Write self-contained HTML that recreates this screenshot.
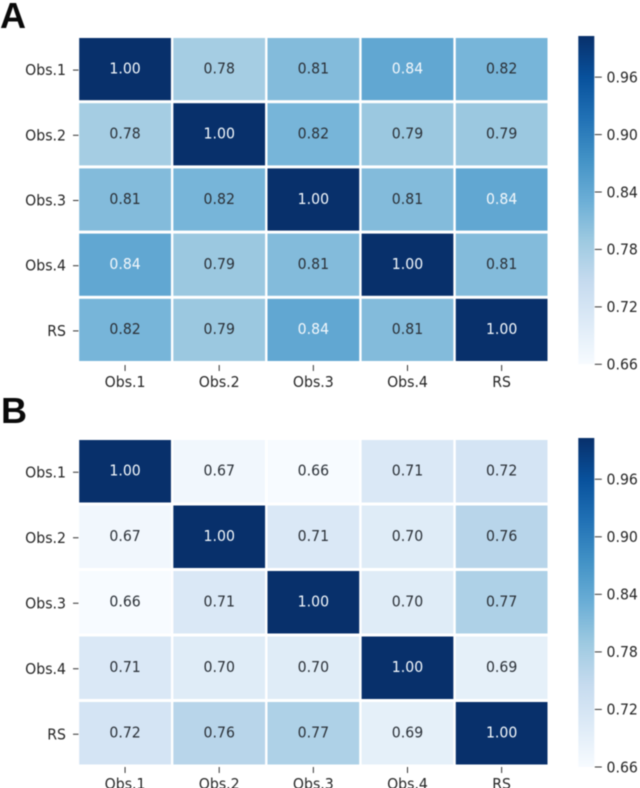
<!DOCTYPE html>
<html>
<head>
<meta charset="utf-8">
<title>Correlation heatmaps</title>
<style>
html,body{margin:0;padding:0;background:#fff;width:640px;height:788px;overflow:hidden}
svg{display:block}
text{font-family:"DejaVu Sans","Liberation Sans",sans-serif}
</style>
</head>
<body>
<svg id="fig" xmlns="http://www.w3.org/2000/svg" width="640" height="788" viewBox="0 0 640 788">
<defs>
<filter id="soft" x="-2%" y="-2%" width="104%" height="104%" color-interpolation-filters="sRGB"><feGaussianBlur stdDeviation="0.4"/></filter>
</defs>
<g id="root" filter="url(#soft)"></g>
</svg>
<script>
const rowLabels = ["Obs.1", "Obs.2", "Obs.3", "Obs.4", "RS"];
const colLabels = ["Obs.1", "Obs.2", "Obs.3", "Obs.4", "RS"];
const matrixA = [
  [1.00, 0.78, 0.81, 0.84, 0.82],
  [0.78, 1.00, 0.82, 0.79, 0.79],
  [0.81, 0.82, 1.00, 0.81, 0.84],
  [0.84, 0.79, 0.81, 1.00, 0.81],
  [0.82, 0.79, 0.84, 0.81, 1.00]
];
const matrixB = [
  [1.00, 0.67, 0.66, 0.71, 0.72],
  [0.67, 1.00, 0.71, 0.70, 0.76],
  [0.66, 0.71, 1.00, 0.70, 0.77],
  [0.71, 0.70, 0.70, 1.00, 0.69],
  [0.72, 0.76, 0.77, 0.69, 1.00]
];
const colorbarTicks = [0.66, 0.72, 0.78, 0.84, 0.90, 0.96];
const valueMin = 0.66;
const valueMax = 1.0;
const colorbarMax = 1.003;
const blues = ["#f7fbff","#deebf7","#c6dbef","#9ecae1","#6baed6","#4292c6","#2171b5","#08519c","#08306b"];

const NS = "http://www.w3.org/2000/svg";
const root = document.getElementById("root");

function hexToRgb(h){
  return [parseInt(h.slice(1,3),16),parseInt(h.slice(3,5),16),parseInt(h.slice(5,7),16)];
}
function colorFor(v){
  const t = Math.max(0,Math.min(1,(v-valueMin)/(valueMax-valueMin)))*(blues.length-1);
  const i = Math.min(blues.length-2,Math.floor(t));
  const f = t-i;
  const a = hexToRgb(blues[i]), b = hexToRgb(blues[i+1]);
  return "rgb("+a.map((c,k)=>Math.round(c+(b[k]-c)*f)).join(",")+")";
}
function textColorFor(v){
  return v >= 0.835 ? "#f2f7fb" : "#2b3138";
}
function make(tag,attrs,parent){
  const el = document.createElementNS(NS,tag);
  for(const k in attrs){ el.setAttribute(k,attrs[k]); }
  (parent||root).appendChild(el);
  return el;
}
function label(parent,x,y,str,anchor,fill){
  const el = make("text",{x:0,y:0,"font-size":15,"text-anchor":anchor,fill:fill,transform:"translate("+x+" "+y+") scale(0.94 1)"},parent);
  el.textContent = str;
  return el;
}

function drawPanel(prefix,matrix,letter,letterX,letterY,top,bottom,xTickTop,cbTop,cbBottom){
  const left = 78, right = 548.7;
  const cw = (right-left)/colLabels.length;
  const ch = (bottom-top)/rowLabels.length;
  const xPos = i => left+cw*i;
  const yPos = i => top+ch*i;

  const group = make("g",{});
  
  

  const title = make("text",{x:letterX,y:letterY,"font-size":36,"font-weight":"bold",fill:"#0a0a0a",style:'font-family:"Liberation Sans",sans-serif'},group);
  title.textContent = letter;
  
  

  matrix.forEach((row,r)=>{
    row.forEach((v,c)=>{
      const rect = make("rect",{x:xPos(c)+1.2,y:yPos(r)+1.5,width:cw-2.4,height:ch-3,fill:colorFor(v)},group);
      
      
      const value = label(group,xPos(c)+cw/2,yPos(r)+ch/2+4.25,v.toFixed(2),"middle",textColorFor(v));
      
      
    });
  });

  rowLabels.forEach((name,r)=>{
    const cy = yPos(r)+ch/2;
    const tick = make("line",{x1:73,x2:78.5,y1:cy+1,y2:cy+1,stroke:"#333","stroke-width":1},group);
    
    
    const rowName = label(group,66,cy+6,name,"end","#262626");
    
    
  });

  colLabels.forEach((name,c)=>{
    const cx = xPos(c)+cw/2;
    const tick = make("line",{x1:cx,x2:cx,y1:xTickTop,y2:xTickTop+6,stroke:"#333","stroke-width":1},group);
    
    
    const colName = label(group,cx,xTickTop+22,name,"middle","#262626");
    
    
  });

  const gradId = prefix+"-grad";
  const defs = make("defs",{},group);
  const grad = make("linearGradient",{id:gradId,x1:0,y1:1,x2:0,y2:0},defs);
  blues.forEach((col,i)=>{
    make("stop",{offset:i/(blues.length-1),"stop-color":col},grad);
  });
  const cbX = 578.3, cbW = 16;
  const bar = make("rect",{x:cbX,y:cbTop,width:cbW,height:cbBottom-cbTop,fill:"url(#"+gradId+")"},group);
  
  
  const cbY = v => cbBottom-(v-valueMin)/(colorbarMax-valueMin)*(cbBottom-cbTop);
  colorbarTicks.forEach(v=>{
    const y = cbY(v);
    const tick = make("line",{x1:cbX+cbW+0.5,x2:cbX+cbW+7.5,y1:y,y2:y,stroke:"#333","stroke-width":1},group);
    
    
    const tickText = label(group,606.5,y+5.3,v.toFixed(2),"start","#262626");
    
    
  });
}

drawPanel("a",matrixA,"A",0,28,36.5,362.5,365,36,364.3);
drawPanel("b",matrixB,"B",1,423,438.5,766,767,438,767);
</script>
</body>
</html>
